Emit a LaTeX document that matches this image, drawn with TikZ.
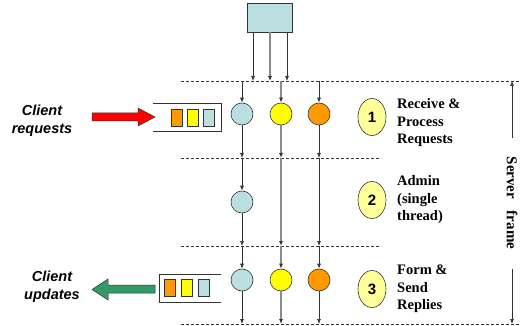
\documentclass[tikz,border=0pt]{standalone}
\usepackage{fontspec}
\setmainfont{Liberation Serif}
\setsansfont{Liberation Sans}
\usetikzlibrary{arrows.meta,shapes.geometric}
\definecolor{lblue}{HTML}{BBDFE0}
\definecolor{yel}{HTML}{FFFF00}
\definecolor{org}{HTML}{FF9900}
\definecolor{pale}{HTML}{FFFF99}
\definecolor{grn}{HTML}{339966}
\definecolor{dk}{HTML}{333333}
\definecolor{gr}{HTML}{8A8A8A}
\tikzset{
  dline/.style={draw=dk,dash pattern=on 3pt off 2pt,line width=0.8pt},
  thr/.style={circle,draw=dk,line width=0.6pt,minimum size=22pt,inner sep=0pt},
  vline/.style={draw=dk,line width=0.7pt,-{Latex[length=5pt,width=4pt]}},
  vlineg/.style={draw=gr,line width=1.1pt,-{Latex[length=5pt,width=4pt,color=dk,fill=dk]}},
  qrect/.style={draw=dk,line width=0.6pt,minimum width=11pt,minimum height=17pt,inner sep=0pt},
  phase/.style={ellipse,draw=dk,line width=0.6pt,fill=pale,minimum width=28pt,minimum height=37pt,inner sep=0pt,font=\sffamily\bfseries\fontsize{15}{15}\selectfont},
  lbl/.style={anchor=west,align=left,inner sep=0pt,font=\rmfamily\bfseries\fontsize{14.5}{17.5}\selectfont},
  cli/.style={align=center,inner sep=0pt,font=\sffamily\bfseries\itshape\fontsize{14.5}{18}\selectfont},
  qbox/.style={draw=dk,line width=0.8pt}
}
\begin{document}
\begin{tikzpicture}[x=1pt,y=-1pt]
\useasboundingbox (0,0) rectangle (522,326);
% top box
\node[draw=dk,line width=0.8pt,fill=lblue,minimum width=45pt,minimum height=29pt,inner sep=0pt] (src) at (269.5,17.5) {};
% dashed lines
\coordinate (l0a) at (181,81); \coordinate (l0b) at (520,81);
\coordinate (l1a) at (181,158); \coordinate (l1b) at (381,158);
\coordinate (l2a) at (181,246); \coordinate (l2b) at (381,246);
\coordinate (l3a) at (181,324); \coordinate (l3b) at (520,324);
\draw[dline] (l0a) -- (l0b);
\draw[dline] (l1a) -- (l1b);
\draw[dline] (l2a) -- (l2b);
\draw[dline] (l3a) -- (l3b);
% arrows from source box
\coordinate (s1) at (253,81); \coordinate (s2) at (270,81); \coordinate (s3) at (287,81);
\draw[vline] (src.south -| s1) -- (s1);
\draw[vlineg] (src.south -| s2) -- (s2);
\draw[vline] (src.south -| s3) -- (s3);
% threads
\node[thr,fill=lblue] (a1) at (242,114) {};
\node[thr,fill=yel] (b1) at (281,114) {};
\node[thr,fill=org] (c1) at (319,114) {};
\node[thr,fill=lblue] (a2) at (242,202) {};
\node[thr,fill=lblue] (a3) at (242,280) {};
\node[thr,fill=yel] (b3) at (281,280) {};
\node[thr,fill=org] (c3) at (319,280) {};
% column coordinates on dashed lines
\coordinate (a0t) at (242,81); \coordinate (b0t) at (281,81); \coordinate (c0t) at (319,81);
\coordinate (a1b) at (242,158); \coordinate (b1b) at (281,158); \coordinate (c1b) at (319,158);
\coordinate (a2b) at (242,246); \coordinate (b2b) at (281,246); \coordinate (c2b) at (319,246);
\coordinate (a3b) at (242,324); \coordinate (b3b) at (281,324); \coordinate (c3b) at (319,324);
\draw[vline] (a0t) -- (a1); \draw[vlineg] (b0t) -- (b1); \draw[vline] (c0t) -- (c1);
\draw[vline] (a1) -- (a1b); \draw[vlineg] (b1) -- (b1b); \draw[vline] (c1) -- (c1b);
\draw[vline] (a1b) -- (a2); \draw[vline] (a2) -- (a2b);
\draw[vlineg] (b1b) -- (b2b); \draw[vline] (c1b) -- (c2b);
\draw[vline] (a2b) -- (a3); \draw[vlineg] (b2b) -- (b3); \draw[vline] (c2b) -- (c3);
\draw[vline] (a3) -- (a3b); \draw[vlineg] (b3) -- (b3b); \draw[vline] (c3) -- (c3b);
% queues
\draw[qbox] (153,103) -- (221,103) -- (221,131) -- (153,131);
\node[qrect,fill=org] (q1o) at (176.5,117.5) {};
\node[qrect,fill=yel] (q1y) at (193,117.5) {};
\node[qrect,fill=lblue] (q1b) at (209,117.5) {};
\draw[qbox] (221,274) -- (159,274) -- (159,302) -- (221,302);
\node[qrect,fill=org] (q3o) at (170,288) {};
\node[qrect,fill=yel] (q3y) at (187,288) {};
\node[qrect,fill=lblue] (q3b) at (203.5,288) {};
% block arrows
\draw[draw=dk,line width=0.5pt,fill=red] (92,113) -- (138,113) -- (138,108) -- (155,117) -- (138,126) -- (138,121) -- (92,121) -- cycle;
\draw[draw=dk,line width=0.5pt,fill=grn] (155,285) -- (108,285) -- (108,279) -- (92,289.5) -- (108,300) -- (108,293) -- (155,293) -- cycle;
% client labels
\node[cli] (creq) at (42,121) {Client\\requests};
\node[cli] (cupd) at (52,287) {Client\\updates};
% phases
\node[phase] (p1) at (372,117) {1};
\node[phase] (p2) at (372,200) {2};
\node[phase] (p3) at (372,289) {3};
\node[lbl] (t1) at (397,123) {Receive \&\\Process\\Requests};
\node[lbl] (t2) at (397,200) {Admin\\(single\\thread)};
\node[lbl] (t3) at (397,289) {Form \&\\Send\\Replies};
% server frame
\node[rotate=-90,inner sep=0pt,font=\rmfamily\bfseries\fontsize{15}{15}\selectfont] (sf) at (512,203) {Server\hspace{8pt} frame};
\coordinate (sft) at (512,81); \coordinate (sfb) at (512,324);
\draw[vline] (512,138) -- (sft);
\draw[vline] (512,269) -- (sfb);
\end{tikzpicture}
\end{document}
